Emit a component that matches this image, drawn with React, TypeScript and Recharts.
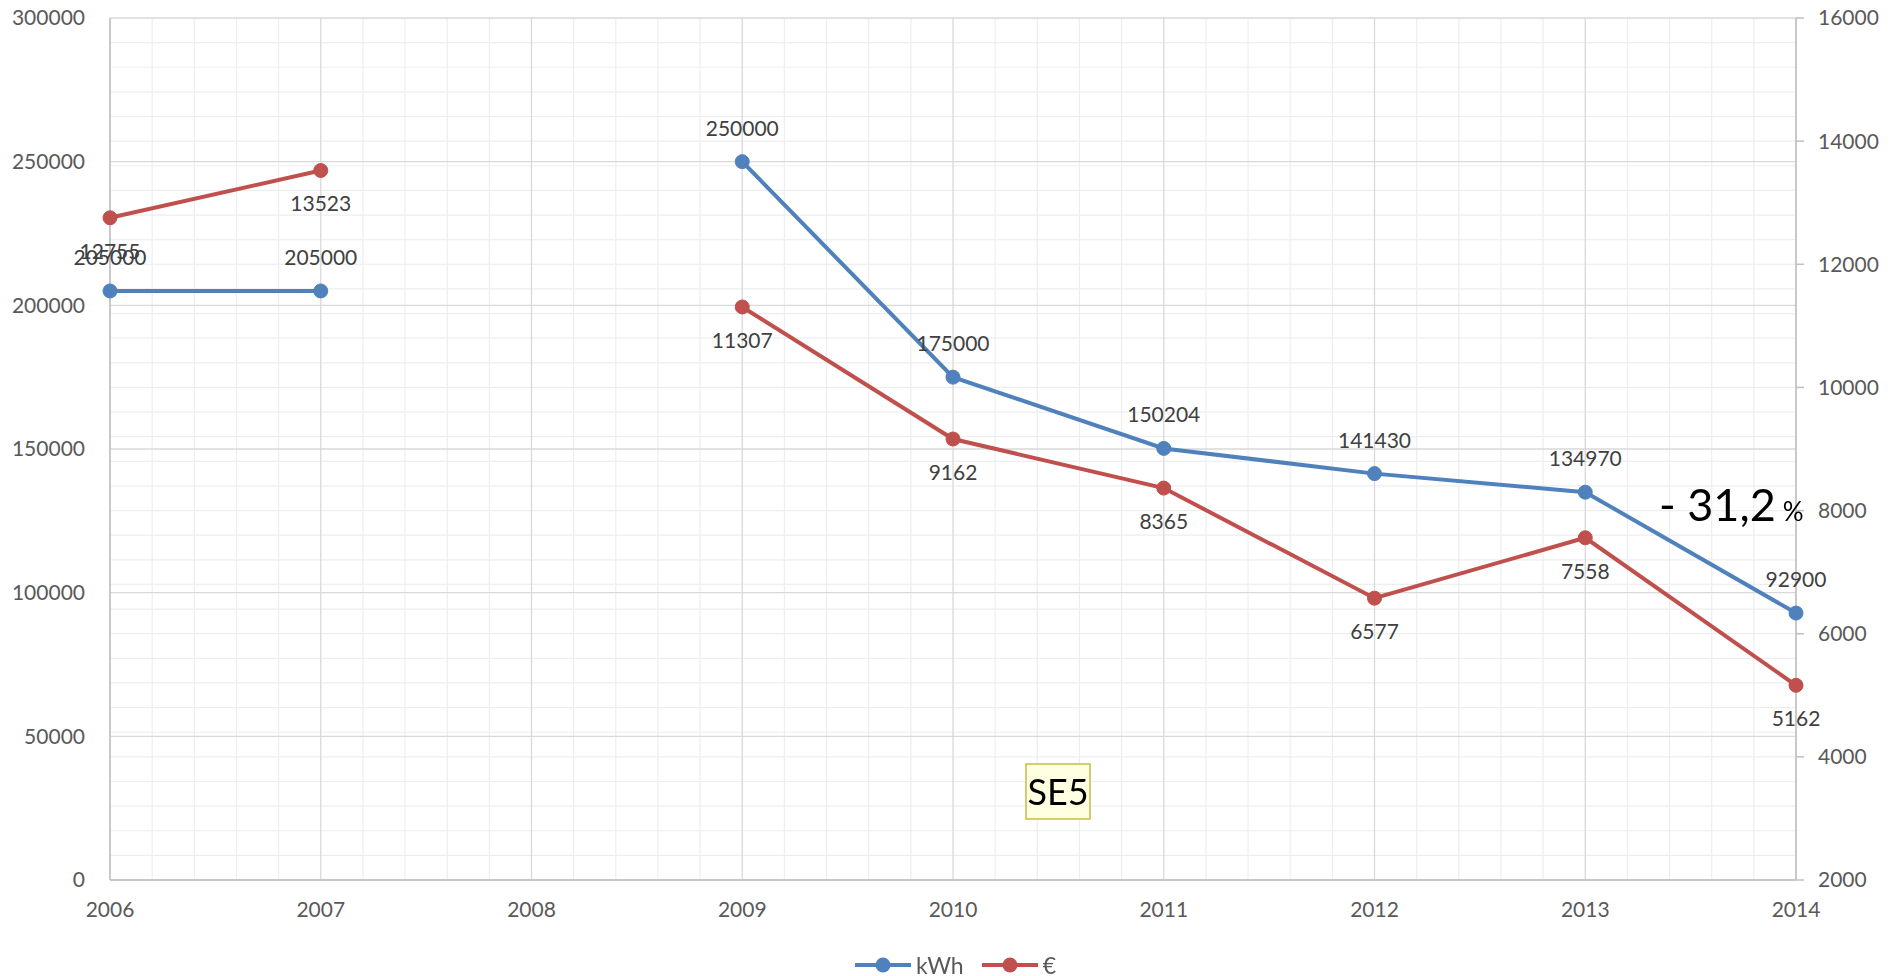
import {
  CartesianGrid,
  LabelList,
  Legend,
  Line,
  LineChart,
  XAxis,
  YAxis,
} from "recharts";

// yearly consumption (kWh) and cost (€), 2008 missing
const YEARS = [2006, 2007, 2008, 2009, 2010, 2011, 2012, 2013, 2014];
const KWH = [205000, 205000, null, 250000, 175000, 150204, 141430, 134970, 92900];
const EURO = [12755, 13523, null, 11307, 9162, 8365, 6577, 7558, 5162];
const KWH_TICKS = [0, 50000, 100000, 150000, 200000, 250000, 300000];
const EURO_TICKS = [2000, 4000, 6000, 8000, 10000, 12000, 14000, 16000];

// minor grid: 5 steps per year, 400 € steps on the right axis
const MINOR_YEARS = YEARS.slice(0, -1).flatMap((y) => [0.2, 0.4, 0.6, 0.8].map((f) => y + f));
const MINOR_EURO = EURO_TICKS.slice(0, -1).flatMap((v) => [0, 400, 800, 1200, 1600].map((s) => v + s));

const AXIS = "#bfbfbf";
const TICK_TEXT = { fill: "#595959", fontSize: 21 };
const BLUE = "#4f81bd";
const RED = "#c0504d";

const data = YEARS.map((year, i) => ({ year, kwh: KWH[i], euro: EURO[i] }));

const renderLegend = () => (
  <div style={{ display: "flex", justifyContent: "center", alignItems: "center", gap: 18, height: 24, color: "#595959", fontSize: 23, paddingLeft: 10 }}>
    {[
      { name: "kWh", color: BLUE },
      { name: "€", color: RED },
    ].map((item) => (
      <span key={item.name} style={{ display: "flex", alignItems: "center" }}>
        <svg width={56} height={18} style={{ marginRight: 5 }}>
          <line x1={0} y1={9} x2={56} y2={9} stroke={item.color} strokeWidth={4} />
          <circle cx={28} cy={9} r={7.5} fill={item.color} />
        </svg>
        {item.name}
      </span>
    ))}
  </div>
);

const App = () => {
  return (
    <div style={{ position: "fixed", left: 0, top: 0, width: 1901, height: 976, fontFamily: "Lato, sans-serif", background: "#fff" }}>
      <LineChart width={1901} height={976} data={data} margin={{ top: 18, right: 0, bottom: 12, left: 0 }}>
        <CartesianGrid yAxisId="right" vertical={false} horizontalValues={MINOR_EURO} stroke="#eeeeee" strokeWidth={1.2} />
        <CartesianGrid yAxisId="left" horizontal={false} verticalValues={MINOR_YEARS} stroke="#eeeeee" strokeWidth={1.2} />
        <CartesianGrid yAxisId="left" stroke="#d9d9d9" strokeWidth={1.3} />
        <XAxis
          dataKey="year"
          type="number"
          domain={[2006, 2014]}
          ticks={YEARS}
          interval={0}
          height={60}
          stroke={AXIS}
          strokeWidth={1.5}
          tickLine={false}
          tickMargin={16}
          tick={TICK_TEXT}
        />
        <YAxis
          yAxisId="left"
          domain={[0, 300000]}
          ticks={KWH_TICKS}
          interval={0}
          width={110}
          stroke={AXIS}
          strokeWidth={1.5}
          tickLine={false}
          tickMargin={19}
          tick={TICK_TEXT}
        />
        <YAxis
          yAxisId="right"
          orientation="right"
          domain={[2000, 16000]}
          ticks={EURO_TICKS}
          interval={0}
          width={105}
          stroke={AXIS}
          strokeWidth={1.5}
          tickSize={8}
          tickMargin={14}
          tick={TICK_TEXT}
        />
        <Legend verticalAlign="bottom" content={renderLegend} wrapperStyle={{ top: 953, left: 0, width: 1901, height: 24 }} />
        <Line
          yAxisId="left"
          dataKey="kwh"
          name="kWh"
          stroke={BLUE}
          strokeWidth={4}
          dot={{ r: 7, fill: BLUE, stroke: BLUE, strokeWidth: 1 }}
          isAnimationActive={false}
        >
          <LabelList dataKey="kwh" position="top" offset={26} fill="#404040" fontSize={21} />
        </Line>
        <Line
          yAxisId="right"
          dataKey="euro"
          name="€"
          stroke={RED}
          strokeWidth={4}
          dot={{ r: 7, fill: RED, stroke: RED, strokeWidth: 1 }}
          isAnimationActive={false}
        >
          <LabelList dataKey="euro" position="bottom" offset={26} fill="#404040" fontSize={21} />
        </Line>
      </LineChart>
      <svg width={1901} height={976} style={{ position: "absolute", left: 0, top: 0, pointerEvents: "none" }}>
        <text x={1659} y={521} fill="#000" fontSize={45}>
          - 31,2
          <tspan dx={7} fontSize={26}>%</tspan>
        </text>
        <rect x={1026} y={764} width={64} height={55} fill="#ffffe1" stroke="#c4bd48" strokeWidth={1.5} />
        <text x={1058} y={805} fill="#000" fontSize={36} textAnchor="middle">
          SE5
        </text>
      </svg>
    </div>
  );
};

export default App;
